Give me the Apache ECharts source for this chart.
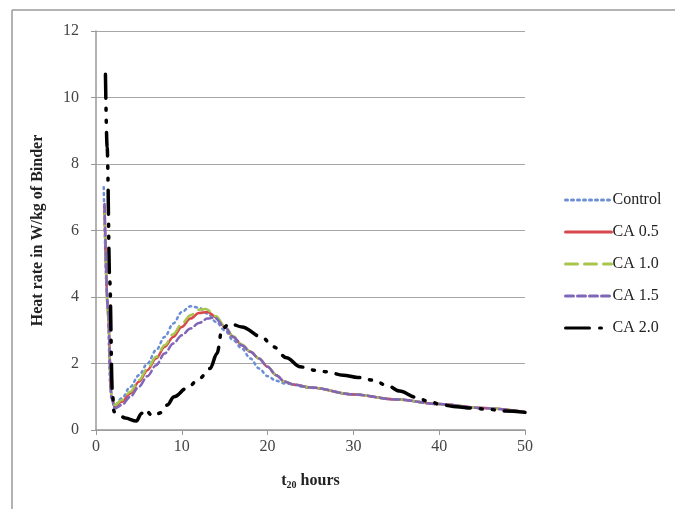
<!DOCTYPE html>
<html>
<head>
<meta charset="utf-8">
<title>Heat rate</title>
<script src="https://cdn.jsdelivr.net/npm/echarts@6/dist/echarts.min.js"></script>
<style>
    html, body { margin: 0; padding: 0; background: #fff; }
    #chart { width: 675px; height: 509px; }
</style>
</head>
<body>
<div id="chart"></div>
<script>
    // values: [t20 hours, W/kg]
    var seriesNames = ['Control', 'CA 0.5', 'CA 1.0', 'CA 1.5', 'CA 2.0'];
    var yTicks = [0, 2, 4, 6, 8, 10, 12];
    var xTicks = [0, 10, 20, 30, 40, 50];

    var control = [[0.9, 7.3], [1.3, 4.0], [1.7, 1.2], [2.1, 0.72], [3, 0.95], [4, 1.3], [5, 1.65], [6, 2.0],
        [7, 2.4], [8, 2.8], [9, 3.2], [10, 3.55], [11, 3.72], [12, 3.68], [13, 3.5], [14, 3.25],
        [15, 3.0], [16, 2.7], [17, 2.45], [18, 2.15], [19, 1.85], [20, 1.62], [21, 1.48], [22, 1.4],
        [25, 1.27], [30, 1.07], [35, 0.92], [40, 0.78], [45, 0.66], [50, 0.54]];
    var ca05 = [[1.0, 6.7], [1.4, 3.5], [1.8, 1.0], [2.2, 0.72], [3, 0.85], [4, 1.1], [5, 1.45], [6, 1.8],
        [7, 2.15], [8, 2.5], [9, 2.8], [10, 3.1], [11, 3.35], [12, 3.52], [13, 3.55], [14, 3.4],
        [15, 3.1], [16, 2.8], [17, 2.55], [18, 2.35], [19, 2.15], [20, 1.9], [21, 1.65], [22, 1.45],
        [23, 1.37], [25, 1.28], [30, 1.07], [35, 0.92], [40, 0.78], [45, 0.66], [50, 0.54]];
    var ca10 = [[1.0, 6.5], [1.4, 3.4], [1.8, 1.0], [2.2, 0.75], [3, 0.9], [4, 1.15], [5, 1.5], [6, 1.85],
        [7, 2.2], [8, 2.55], [9, 2.88], [10, 3.2], [11, 3.45], [12, 3.62], [12.8, 3.64], [14, 3.42],
        [15, 3.12], [16, 2.82], [17, 2.57], [18, 2.36], [19, 2.15], [20, 1.9], [21, 1.65], [22, 1.45],
        [23, 1.37], [25, 1.28], [30, 1.07], [35, 0.92], [40, 0.78], [45, 0.66], [50, 0.54]];
    var ca15 = [[1.0, 6.8], [1.4, 3.6], [1.8, 0.95], [2.2, 0.65], [3, 0.75], [4, 1.0], [5, 1.3], [6, 1.62],
        [7, 1.95], [8, 2.3], [9, 2.6], [10, 2.85], [11, 3.05], [12, 3.22], [13, 3.35], [13.8, 3.38],
        [15, 3.1], [16, 2.8], [17, 2.55], [18, 2.35], [19, 2.15], [20, 1.9], [21, 1.65], [22, 1.45],
        [23, 1.37], [25, 1.28], [30, 1.07], [35, 0.92], [40, 0.78], [45, 0.66], [50, 0.54]];
    var ca20 = [[1.1, 10.7], [1.3, 8.5], [1.6, 4.5], [1.9, 1.2], [2.1, 0.55], [2.7, 0.45], [3.4, 0.36],
        [4.7, 0.27], [5.3, 0.5], [5.7, 0.62], [6.6, 0.42], [7.6, 0.52], [8.3, 0.75], [9.1, 1.0],
        [10.6, 1.26], [12.1, 1.56], [13.3, 1.85], [14.1, 2.3], [14.7, 3.05], [15.6, 3.2], [17, 3.1],
        [19.3, 2.8], [20.7, 2.5], [22.2, 2.17], [23.8, 1.9], [25.5, 1.8], [26.9, 1.75], [28.8, 1.65],
        [30.5, 1.58], [32.3, 1.5], [34, 1.33], [35.4, 1.17], [37.2, 0.99], [38.9, 0.85], [40.4, 0.75],
        [42, 0.7], [43.9, 0.66], [45.7, 0.62], [47.7, 0.57], [50, 0.53]];

    var chart = echarts.init(document.getElementById('chart'));
    var serif = '"Liberation Serif", "DejaVu Serif", serif';

    function line(name, data, color, type, width) {
        return {
            name: name, type: 'line', data: data, smooth: 0.35, smoothMonotone: 'x',
            symbol: 'none', animation: false,
            lineStyle: { color: color, width: width, type: type, cap: 'round' },
            itemStyle: { color: color }
        };
    }

    var option = {
        backgroundColor: '#fff',
        animation: false,
        graphic: [
            { type: 'line', shape: { x1: 12, y1: 10, x2: 675, y2: 10 }, style: { stroke: '#9a9a9a', lineWidth: 1.5 } },
            { type: 'line', shape: { x1: 12, y1: 10, x2: 12, y2: 509 }, style: { stroke: '#9a9a9a', lineWidth: 1.5 } }
        ],
        grid: { left: 96, right: 150, top: 31, bottom: 79 },
        legend: {
            orient: 'vertical', left: 559, top: 187,
            itemWidth: 46, itemHeight: 14, itemGap: 16,
            data: seriesNames,
            itemStyle: { opacity: 0 },
            lineStyle: { width: 3 },
            textStyle: { fontFamily: serif, fontSize: 16, color: '#222', padding: [0, 0, 0, -4] }
        },
        xAxis: {
            type: 'value', min: xTicks[0], max: xTicks[xTicks.length - 1], interval: 10,
            name: '{a|t}{s|20}{a| hours}', nameLocation: 'middle', nameGap: 42,
            nameTextStyle: {
                rich: {
                    a: { fontFamily: serif, fontWeight: 'bold', fontSize: 16, color: '#222' },
                    s: { fontFamily: serif, fontWeight: 'bold', fontSize: 10, color: '#222', padding: [8, 0, 0, 0] }
                }
            },
            axisLine: { lineStyle: { color: '#999', width: 1.5 } },
            axisTick: { show: true, length: 5, inside: false, lineStyle: { color: '#999' } },
            axisLabel: { fontFamily: serif, fontSize: 16, color: '#444', margin: 9 },
            splitLine: { show: false }
        },
        yAxis: {
            type: 'value', min: yTicks[0], max: yTicks[yTicks.length - 1], interval: 2,
            name: 'Heat rate in W/kg of Binder', nameLocation: 'middle', nameGap: 50,
            nameTextStyle: { fontFamily: serif, fontWeight: 'bold', fontSize: 16, color: '#222' },
            axisLine: { show: true, lineStyle: { color: '#999', width: 1.5 } },
            axisTick: { show: true, length: 5, lineStyle: { color: '#999' } },
            axisLabel: { fontFamily: serif, fontSize: 16, color: '#444', margin: 17 },
            splitLine: { lineStyle: { color: '#a6a6a6', width: 1.2 } }
        },
        series: [
            line('Control', control, '#6b8fd6', [2, 4], 2.5),
            line('CA 0.5', ca05, '#d9474b', 'solid', 2.5),
            line('CA 1.0', ca10, '#a6c64c', [12, 7], 2.5),
            line('CA 1.5', ca15, '#8066b8', [8, 4], 2.5),
            line('CA 2.0', ca20, '#000000', [24, 10, 2, 10, 2, 10], 3.5)
        ]
    };

    chart.setOption(option);
</script>
</body>
</html>
